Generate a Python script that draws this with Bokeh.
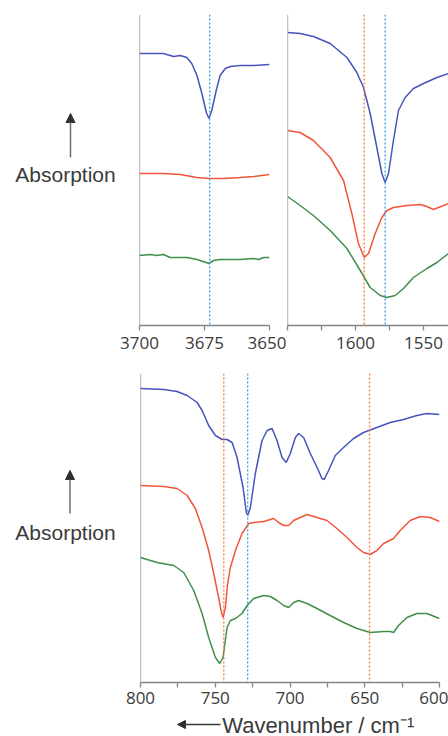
from bokeh.plotting import figure
from bokeh.models import Range1d, FixedTicker, Span, Arrow, NormalHead, Label
from bokeh.layouts import row, column
from bokeh.embed import file_html
from bokeh.resources import INLINE

# ---------------- data (wavenumber / cm-1, absorption in arb. units) ----------------
tl_blue_x = [3700, 3690.8, 3686.9, 3684.3, 3681.8, 3679.9, 3677.9, 3676.0, 3674.3, 3673.3, 3672.2, 3670.5, 3669.0, 3667.0, 3665.1, 3661.3, 3656.1, 3650]
tl_blue_y = [2.72, 2.72, 2.69, 2.70, 2.68, 2.62, 2.50, 2.32, 2.13, 2.07, 2.15, 2.35, 2.50, 2.57, 2.59, 2.60, 2.60, 2.61]
tl_red_x = [3700, 3695, 3690.8, 3684.3, 3677.9, 3673.3, 3667.5, 3661.3, 3656, 3650]
tl_red_y = [1.52, 1.52, 1.52, 1.51, 1.48, 1.47, 1.47, 1.48, 1.49, 1.51]
tl_green_x = [3700, 3695.9, 3693.3, 3690.8, 3688.2, 3684.3, 3681.8, 3677.9, 3674.3, 3673.3, 3671.5, 3669, 3661.3, 3656.1, 3654.2, 3652.3, 3650]
tl_green_y = [0.70, 0.71, 0.70, 0.71, 0.68, 0.68, 0.68, 0.66, 0.63, 0.62, 0.65, 0.66, 0.66, 0.67, 0.66, 0.68, 0.68]
tl_marks_blue = [3673]

tr_blue_x = [1650, 1640.7, 1630.9, 1618.6, 1606.3, 1599.0, 1594.1, 1589.2, 1584.3, 1580.6, 1578.2, 1575.7, 1572.1, 1568.4, 1563.5, 1557.4, 1550.0, 1540.1, 1531.6]
tr_blue_y = [2.93, 2.92, 2.89, 2.82, 2.68, 2.53, 2.38, 2.12, 1.78, 1.52, 1.43, 1.52, 1.85, 2.15, 2.28, 2.37, 2.42, 2.48, 2.52]
tr_red_x = [1650, 1640.7, 1630.9, 1618.6, 1608.8, 1602.7, 1597.8, 1593.6, 1590.4, 1585.5, 1580.6, 1576.9, 1572.1, 1562.2, 1552.4, 1547.5, 1542.6, 1539.0, 1531.6]
tr_red_y = [1.95, 1.93, 1.85, 1.68, 1.45, 1.12, 0.82, 0.68, 0.72, 0.92, 1.08, 1.15, 1.18, 1.20, 1.21, 1.19, 1.16, 1.18, 1.22]
tr_green_x = [1650, 1640.7, 1630.9, 1618.6, 1606.3, 1596.5, 1589.2, 1581.8, 1576.9, 1570.8, 1564.7, 1557.4, 1547.5, 1540.1, 1531.6]
tr_green_y = [1.29, 1.20, 1.10, 0.95, 0.77, 0.55, 0.38, 0.30, 0.28, 0.30, 0.37, 0.48, 0.57, 0.63, 0.72]
tr_marks_orange = [1593.6]
tr_marks_blue = [1578.2]

b_blue_x = [800, 784.4, 775.5, 768.8, 762.1, 758.8, 754.4, 749.9, 745.4, 742.1, 738.7, 735.4, 731.4, 729.2, 728.3, 726.5, 723.2, 718.7, 715.3, 712.0, 708.7, 705.3, 702.5, 699.8, 696.4, 694.2, 690.9, 686.4, 681.9, 678.6, 677.1, 674.2, 669.7, 664.2, 657.5, 650.8, 641.9, 633.0, 624.1, 615.1, 608.5, 600]
b_blue_y = [2.94, 2.93, 2.91, 2.87, 2.80, 2.72, 2.57, 2.47, 2.43, 2.43, 2.40, 2.25, 1.95, 1.70, 1.67, 1.75, 2.09, 2.42, 2.52, 2.54, 2.42, 2.25, 2.20, 2.29, 2.45, 2.49, 2.45, 2.29, 2.15, 2.04, 2.03, 2.12, 2.27, 2.35, 2.44, 2.50, 2.55, 2.60, 2.63, 2.67, 2.69, 2.68]
b_red_x = [800, 784.4, 775.5, 768.8, 763.3, 758.8, 754.4, 751.0, 748.3, 746.1, 744.8, 743.2, 741.7, 739.9, 736.5, 732.1, 727.6, 724.3, 717.6, 710.9, 707.6, 704.2, 700.9, 697.6, 693.1, 688.6, 681.9, 675.3, 668.6, 661.9, 655.2, 650.8, 646.3, 641.9, 637.4, 630.7, 626.3, 619.6, 612.9, 606.2, 600]
b_red_y = [1.97, 1.96, 1.94, 1.87, 1.74, 1.55, 1.32, 1.09, 0.89, 0.72, 0.65, 0.75, 0.99, 1.15, 1.32, 1.49, 1.59, 1.60, 1.61, 1.64, 1.60, 1.57, 1.57, 1.62, 1.65, 1.68, 1.65, 1.62, 1.54, 1.45, 1.35, 1.30, 1.28, 1.32, 1.39, 1.44, 1.52, 1.62, 1.66, 1.65, 1.61]
b_green_x = [800, 788.9, 777.7, 771.1, 764.4, 758.8, 754.4, 749.9, 747.0, 744.8, 742.1, 739.9, 736.5, 732.1, 728.7, 724.3, 717.6, 713.1, 708.7, 704.2, 700.9, 697.6, 694.2, 688.6, 681.9, 673.1, 664.1, 655.2, 646.3, 637.4, 633.0, 630.7, 627.4, 621.8, 615.1, 608.5, 600]
b_green_y = [1.25, 1.20, 1.17, 1.10, 0.92, 0.69, 0.45, 0.25, 0.19, 0.25, 0.55, 0.62, 0.64, 0.69, 0.77, 0.84, 0.87, 0.86, 0.82, 0.77, 0.75, 0.80, 0.82, 0.79, 0.74, 0.67, 0.60, 0.54, 0.50, 0.51, 0.51, 0.50, 0.57, 0.65, 0.69, 0.69, 0.64]
b_marks_orange = [744.3, 646.8]
b_marks_blue = [728.3]

tl_ticks, tl_minor = [3700, 3675, 3650], []
tr_ticks, tr_minor = [1600, 1550], [1650, 1625, 1575]
b_ticks, b_minor = [800, 750, 700, 650, 600], [775, 725, 675, 625]

Y_TITLE = "Absorption"
X_TITLE = "Wavenumber / cm\u207b\u00b9"

BLUE = "#4654bd"
RED = "#f2553a"
GREEN = "#3f8e4c"
MARK_BLUE = "#3a9fe6"
MARK_ORANGE = "#f47a36"
AXIS = "#858585"
TXT = "#3a3a3a"


def panel(xr, ytop, fw, fh, bl, br, bt, bb, ticks, minor, standoff):
    p = figure(output_backend="svg", toolbar_location=None, tools="", title=None,
               x_range=Range1d(*xr), y_range=Range1d(0, ytop),
               frame_width=fw, frame_height=fh,
               min_border_left=bl, min_border_right=br,
               min_border_top=bt, min_border_bottom=bb,
               y_axis_location=None)
    p.grid.visible = False
    p.outline_line_color = None
    p.background_fill_color = "white"
    p.border_fill_color = "white"
    ax = p.xaxis[0]
    ax.ticker = FixedTicker(ticks=ticks, minor_ticks=minor)
    ax.axis_line_color = AXIS
    ax.axis_line_width = 1.3
    ax.major_tick_line_color = AXIS
    ax.major_tick_line_width = 1.3
    ax.major_tick_in = 0
    ax.major_tick_out = 5
    ax.minor_tick_line_color = AXIS
    ax.minor_tick_line_width = 1.3
    ax.minor_tick_in = 0
    ax.minor_tick_out = 5
    ax.major_label_text_font = "Open Sans"
    ax.major_label_text_font_size = "17px"
    ax.major_label_text_color = TXT
    ax.major_label_standoff = standoff
    p.add_layout(Span(location=xr[0], dimension="height", line_color=AXIS, line_width=1.3))
    return p


def marks(p, locs, color):
    for loc in locs:
        p.add_layout(Span(location=loc, dimension="height", line_color=color,
                          line_width=1.3, line_dash="2 2"))


def curves(p, series):
    for xs, ys, c in series:
        p.line(xs, ys, line_color=c, line_width=1.5)


p_tl = panel((3700, 3650), 3.11, 130, 311, 22, 17, 14, 35, tl_ticks, tl_minor, 6)
marks(p_tl, tl_marks_blue, MARK_BLUE)
curves(p_tl, [(tl_blue_x, tl_blue_y, BLUE), (tl_red_x, tl_red_y, RED), (tl_green_x, tl_green_y, GREEN)])

p_tr = panel((1650, 1531.6), 3.11, 161, 311, 1, 0, 14, 35, tr_ticks, tr_minor, 6)
marks(p_tr, tr_marks_orange, MARK_ORANGE)
marks(p_tr, tr_marks_blue, MARK_BLUE)
curves(p_tr, [(tr_blue_x, tr_blue_y, BLUE), (tr_red_x, tr_red_y, RED), (tr_green_x, tr_green_y, GREEN)])

p_b = panel((800, 600), 3.09, 299, 309, 23, 9, 13, 32, b_ticks, b_minor, 4)
marks(p_b, b_marks_orange, MARK_ORANGE)
marks(p_b, b_marks_blue, MARK_BLUE)
curves(p_b, [(b_blue_x, b_blue_y, BLUE), (b_red_x, b_red_y, RED), (b_green_x, b_green_y, GREEN)])


# annotation canvases: their ranges are the page pixel coordinates of their frame
def blank(x0, x1, ytop, ybot, bt=0, bb=0):
    p = figure(output_backend="svg", toolbar_location=None, tools="", title=None,
               x_range=Range1d(x0, x1), y_range=Range1d(ybot, ytop),
               frame_width=x1 - x0, frame_height=ybot - ytop,
               min_border_left=0, min_border_right=0,
               min_border_top=bt, min_border_bottom=bb,
               x_axis_location=None, y_axis_location=None)
    p.grid.visible = False
    p.outline_line_color = None
    p.background_fill_color = "white"
    p.border_fill_color = "white"
    return p


def ylabel(p, ax_x, tip, tail, tx, ty):
    p.add_layout(Label(x=tx, y=ty, text=Y_TITLE, text_align="center",
                       text_baseline="alphabetic", text_font="Liberation Sans",
                       text_font_size="21px", text_color=TXT))
    p.add_layout(Arrow(end=NormalHead(size=9, fill_color="#2f2f2f", line_color="#2f2f2f", line_width=1),
                       x_start=ax_x, y_start=tail, x_end=ax_x, y_end=tip,
                       line_color="#6f6f6f", line_width=1.5))


lab_top = blank(0, 117, 14, 325, bt=14, bb=35)
ylabel(lab_top, 70, 113, 157, 65, 174.2)
lab_bot = blank(0, 117, 373, 682, bt=13, bb=32)
ylabel(lab_bot, 69.5, 470, 513, 65, 531.5)

xlab = blank(0, 448, 714, 736)
xlab.add_layout(Label(x=221.7, y=724.5, text=X_TITLE, text_align="left",
                      text_baseline="alphabetic", text_font="Liberation Sans",
                      text_font_size="22px", text_color=TXT))
xlab.add_layout(Arrow(end=NormalHead(size=8, fill_color="#2f2f2f", line_color="#2f2f2f", line_width=1),
                      x_start=220, y_start=724, x_end=177, y_end=724,
                      line_color="#3a3a3a", line_width=1.5))

layout = column(row(lab_top, p_tl, p_tr), row(lab_bot, p_b), xlab)

with open("out.html", "w") as f:
    f.write(file_html(layout, INLINE))
